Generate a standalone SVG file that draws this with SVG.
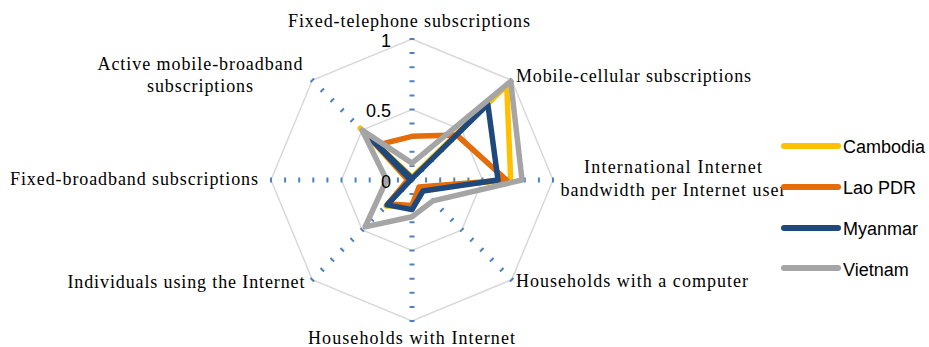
<svg xmlns="http://www.w3.org/2000/svg" width="929" height="347" viewBox="0 0 929 347">
<style>
.grid{fill:none;stroke:#D9D9D9;stroke-width:1.5}
.axis{stroke:#4F81BD;stroke-width:5;stroke-dasharray:2 12.1;stroke-dashoffset:1;fill:none}
.ser{fill:none;stroke-width:5.5;stroke-linejoin:round;stroke-linecap:round}
.cam{stroke:#FFC000}
.lao{stroke:#E46C0A}
.mya{stroke:#1F497D}
.vie{stroke:#A5A5A5}
.lbl{font-family:"Liberation Serif","Times New Roman",serif;font-size:18px;fill:#000}
.tick{font-family:"Liberation Sans",Arial,sans-serif;font-size:18px;fill:#000;text-anchor:end}
.leg{font-family:"Liberation Sans",Arial,sans-serif;font-size:18px;fill:#000}
.legline{stroke-width:6;stroke-linecap:round}
</style>
<rect width="929" height="347" fill="#fff"/>
<g id="grid">
<polygon class="grid" points="412,39 511.7,80.3 553,180 511.7,279.7 412,321 312.3,279.7 271,180 312.3,80.3"/>
<polygon class="grid" points="412,109.5 461.85,130.15 482.5,180 461.85,229.85 412,250.5 362.15,229.85 341.5,180 362.15,130.15"/>
</g>
<g id="axes">
<line class="axis" x1="412" y1="180" x2="412" y2="38"/>
<line class="axis" x1="412" y1="180" x2="512.4" y2="79.6"/>
<line class="axis" x1="412" y1="180" x2="554" y2="180"/>
<line class="axis" x1="412" y1="180" x2="512.4" y2="280.4"/>
<line class="axis" x1="412" y1="180" x2="412" y2="322"/>
<line class="axis" x1="412" y1="180" x2="311.6" y2="280.4"/>
<line class="axis" x1="412" y1="180" x2="270" y2="180"/>
<line class="axis" x1="412" y1="180" x2="311.6" y2="79.6"/>
</g>
<g id="series">
<polygon id="cambodia" class="ser cam" points="412,177.2 506.7,85.3 510.7,180 420,188 412,205.4 386.1,205.9 407.8,180 360.2,128.2"/>
<polygon id="lao" class="ser lao" points="412,136.3 456.9,135.1 506.5,180 419,187 412,205.4 388.1,203.9 407.8,180 377.1,145.1"/>
<polygon id="myanmar" class="ser mya" points="412,178.6 487.8,104.2 498,180 423,191 412,209.6 387.1,204.9 410.6,180 368.1,136.1"/>
<polygon id="vietnam" class="ser vie" points="412,163.1 510.7,81.3 522,180 432.9,200.9 412,216.7 365.1,226.9 386.6,180 362.1,130.1"/>
</g>
<g id="tick-labels">
<text class="tick" x="391" y="47">1</text>
<text class="tick" x="391" y="117">0.5</text>
<text class="tick" x="391" y="188">0</text>
</g>
<g id="category-labels">
<text class="lbl" x="409" y="27" text-anchor="middle" textLength="242">Fixed-telephone subscriptions</text>
<text class="lbl" x="516" y="82" textLength="235">Mobile-cellular subscriptions</text>
<text class="lbl" x="673" y="173" text-anchor="middle" textLength="178">International Internet</text>
<text class="lbl" x="673" y="196" text-anchor="middle" textLength="225">bandwidth per Internet user</text>
<text class="lbl" x="516" y="287" textLength="232">Households with a computer</text>
<text class="lbl" x="411.5" y="344" text-anchor="middle" textLength="207">Households with Internet</text>
<text class="lbl" x="186" y="288" text-anchor="middle" textLength="237">Individuals using the Internet</text>
<text class="lbl" x="134" y="185" text-anchor="middle" textLength="248">Fixed-broadband subscriptions</text>
<text class="lbl" x="200" y="70" text-anchor="middle" textLength="205">Active mobile-broadband</text>
<text class="lbl" x="200" y="92" text-anchor="middle" textLength="106">subscriptions</text>
</g>
<g id="legend">
<g id="legend-cambodia"><line class="legline cam" x1="784" y1="146" x2="838" y2="146"/><text class="leg" x="843" y="153">Cambodia</text></g>
<g id="legend-lao"><line class="legline lao" x1="784" y1="187" x2="838" y2="187"/><text class="leg" x="843" y="194">Lao PDR</text></g>
<g id="legend-myanmar"><line class="legline mya" x1="784" y1="228" x2="838" y2="228"/><text class="leg" x="843" y="235">Myanmar</text></g>
<g id="legend-vietnam"><line class="legline vie" x1="784" y1="268" x2="838" y2="268"/><text class="leg" x="843" y="276">Vietnam</text></g>
</g>
</svg>
